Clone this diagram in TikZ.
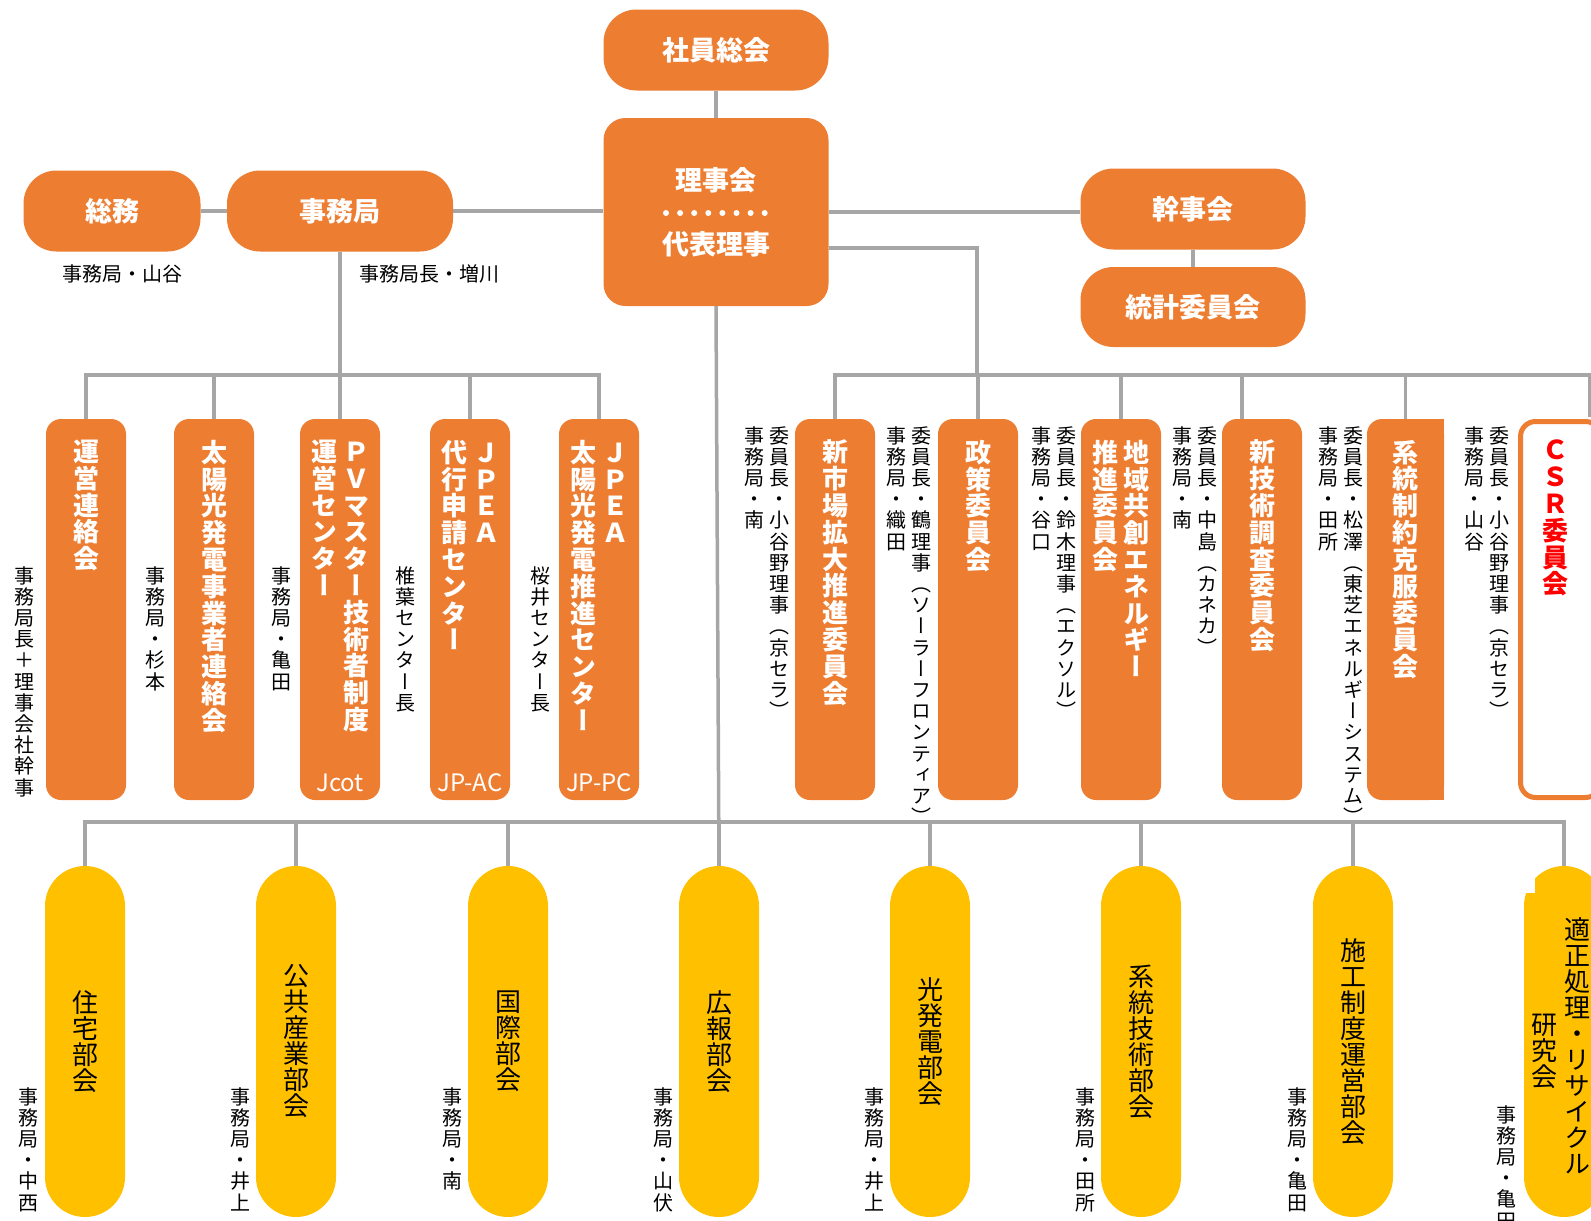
\documentclass[tikz,border=0pt]{standalone}
\usepackage{fontspec}
\usetikzlibrary{positioning}
\newfontfamily\jp{Noto Sans CJK JP}
\newfontfamily\jpv[RawFeature=+vert]{Noto Sans CJK JP}
\definecolor{jorange}{HTML}{ED7D31}
\definecolor{jyellow}{HTML}{FFC000}
\definecolor{jgray}{HTML}{A6A6A6}
\definecolor{jred}{HTML}{FF0000}
% one character per line, columns top aligned
\newcommand\vcol[1]{\vtop{\lineskiplimit=-100pt\expandafter\vcolA#1\relax}}
\def\vcolA#1{\ifx\relax#1\else\hbox to 1em{\hss#1\hss}\expandafter\vcolA\fi}
\begin{document}
\begin{tikzpicture}[x=1pt, y=-1pt,
  toptxt/.style={text=white, inner sep=0pt, font=\jp\bfseries\fontsize{27pt}{27pt}\selectfont},
  topbox/.style={toptxt, fill=jorange, rounded corners=33pt, minimum width=225pt, minimum height=81pt},
  colbox/.style={fill=jorange, rounded corners=15pt, minimum width=80pt, minimum height=381pt, inner sep=0pt},
  pill/.style={fill=jyellow, rounded corners=40pt, minimum width=80pt, minimum height=351pt, inner sep=0pt},
  wtxt/.style={text=white, inner sep=0pt, font=\jpv\bfseries\fontsize{26pt}{26.8pt}\selectfont},
  btxt/.style={text=black, inner sep=0pt, font=\jpv\fontsize{26pt}{26pt}\selectfont},
  lbl/.style={text=black, inner sep=0pt, font=\jpv\fontsize{20pt}{21.2pt}\selectfont},
  hlbl/.style={text=black, inner sep=0pt, font=\jp\fontsize{20pt}{20pt}\selectfont},
  abbr/.style={text=white, inner sep=0pt, font=\jp\fontsize{24pt}{24pt}\selectfont},
  conn/.style={draw=jgray, line width=3.5pt},
]
\path[clip, use as bounding box] (0,0) rectangle (1591,1221);

% top
\node[topbox] (soukai) at (716,50) {社員総会};
\node[topbox, rounded corners=22pt, minimum height=188pt] (riji) at (716,212) {};
\node[toptxt] (rijiA) at (716,180) {理事会};
\foreach \i in {0,...,7} \fill[white] (666+\i*14.1,213) circle (3pt);
\node[toptxt] (rijiB) at (716,244) {代表理事};
\node[topbox, minimum width=177pt] (soumu) at (112,211) {総務};
\node[topbox, minimum width=226pt] (jimu) at (340,211) {事務局};
\node[topbox] (kanji) at (1193,209) {幹事会};
\node[topbox, minimum height=80pt] (toukei) at (1193,307) {統計委員会};
\node[hlbl] (soumuL) at (122,274) {事務局・山谷};
\node[hlbl] (jimuL) at (429,274) {事務局長・増川};

\coordinate (lbus) at (0,375);
\coordinate (rbus) at (977,375);
\coordinate (rbusE) at (1600,375);
\coordinate (bbus) at (0,822);

% jimukyoku side
\node[colbox] (unei) at (86,609.5) {};
\node[colbox] (taiyou) at (214,609.5) {};
\node[colbox] (pvm) at (340,609.5) {};
\node[colbox] (jpac) at (470,609.5) {};
\node[colbox] (jppc) at (599,609.5) {};
\node[wtxt, below=21pt of unei.north] (uneiT) {\vcol{運営連絡会}};
\node[wtxt, below=21pt of taiyou.north] (taiyouT) {\vcol{太陽光発電事業者連絡会}};
\node[wtxt, below=21pt of pvm.north] (pvmT) {\vcol{運営センター}\kern6pt\vcol{ＰＶマスター技術者制度}};
\node[wtxt, below=21pt of jpac.north] (jpacT) {\vcol{代行申請センター}\kern6pt\vcol{ＪＰＥＡ}};
\node[wtxt, below=21pt of jppc.north] (jppcT) {\vcol{太陽光発電推進センター}\kern6pt\vcol{ＪＰＥＡ}};
\node[abbr, above=8pt of pvm.south] (pvmA) {Jcot};
\node[abbr, above=8pt of jpac.south] (jpacA) {JP-AC};
\node[abbr, above=8pt of jppc.south] (jppcA) {JP-PC};
\node[lbl, anchor=north] (uneiL) at (24,566) {\vcol{事務局長＋理事会社幹事}};
\node[lbl, anchor=north] (taiyouL) at (155,566) {\vcol{事務局・杉本}};
\node[lbl, anchor=north] (pvmL) at (281,566) {\vcol{事務局・亀田}};
\node[lbl, anchor=north] (jpacL) at (405,566) {\vcol{椎葉センター長}};
\node[lbl, anchor=north] (jppcL) at (540,566) {\vcol{桜井センター長}};

% committees
\node[colbox] (shinsi) at (835,609.5) {};
\node[colbox] (seisaku) at (978,609.5) {};
\node[colbox] (chiiki) at (1121,609.5) {};
\node[colbox] (shingi) at (1262,609.5) {};
\node[colbox, minimum width=77pt] (keitou) at (1405.5,609.5) {};
\fill[jorange] (1420,419) rectangle (1444,800);
\node[colbox, fill=white, draw=jorange, line width=5pt, minimum height=376pt] (csr) at (1560.5,609.5) {};
\node[wtxt, below=21pt of shinsi.north] (shinsiT) {\vcol{新市場拡大推進委員会}};
\node[wtxt, below=21pt of seisaku.north] (seisakuT) {\vcol{政策委員会}};
\node[wtxt, below=21pt of chiiki.north] (chiikiT) {\vcol{推進委員会}\kern5pt\vcol{地域共創エネルギー}};
\node[wtxt, below=21pt of shingi.north] (shingiT) {\vcol{新技術調査委員会}};
\node[wtxt, below=21pt of keitou.north] (keitouT) {\vcol{系統制約克服委員会}};
\node[wtxt, text=jred, anchor=north] (csrT) at (1555,440) {\vcol{ＣＳＲ委員会}};
\node[lbl, anchor=north] (shinsiL) at (767,426) {\vcol{事務局・南}\kern5pt\vcol{委員長・小谷野理事（京セラ）}};
\node[lbl, anchor=north] (seisakuL) at (909,426) {\vcol{事務局・織田}\kern5pt\vcol{委員長・鶴理事（ソーラーフロンティア）}};
\node[lbl, anchor=north] (chiikiL) at (1054,426) {\vcol{事務局・谷口}\kern5pt\vcol{委員長・鈴木理事（エクソル）}};
\node[lbl, anchor=north] (shingiL) at (1195,426) {\vcol{事務局・南}\kern5pt\vcol{委員長・中島（カネカ）}};
\node[lbl, anchor=north] (keitouL) at (1341,426) {\vcol{事務局・田所}\kern5pt\vcol{委員長・松澤（東芝エネルギーシステム）}};
\node[lbl, anchor=north] (csrL) at (1487,426) {\vcol{事務局・山谷}\kern5pt\vcol{委員長・小谷野理事（京セラ）}};

% bukai
\foreach \nm/\px/\tx/\lb in {jutaku/85/住宅部会/事務局・中西, koukyou/296/公共産業部会/事務局・井上,
    kokusai/508/国際部会/事務局・南, kouhou/719/広報部会/事務局・山伏, kouhatsu/930/光発電部会/事務局・井上,
    keitoug/1141/系統技術部会/事務局・田所, sekou/1353/施工制度運営部会/事務局・亀田}{
  \node[pill] (\nm) at (\px,1041.5) {};
  \node[btxt] (\nm-t) at (\nm) {\vcol{\tx}};
  \node[lbl, anchor=north] (\nm-l) at (\px-56,1087) {\vcol{\lb}};
}
\node[pill] (tekisei) at (1564,1041.5) {};
\fill[white] (1520,862) rectangle (1535,893);
\node[btxt] (tekiseiA) at (1577,1046) {\vcol{適正処理・リサイクル}};
\node[btxt] (tekiseiB) at (1544,1051) {\vcol{研究会}};
\node[lbl, anchor=north] (tekiseiL) at (1506,1105) {\vcol{事務局・亀田}};

% connectors
\draw[conn] (soukai) -- (riji);
\draw[conn] (soumu.east) -- (jimu.west);
\draw[conn] (jimu.east) -- (jimu.east -| riji.west);
\draw[conn] (riji.east) -- (riji.east -| kanji.west);
\draw[conn] (kanji) -- (toukei);
\draw[conn] ([yshift=-36pt]riji.east) -| (rbus);
\draw[conn] (jimu.south) -- (jimu.south |- lbus);
\draw[conn] (unei.north) |- (jppc.north |- lbus) -- (jppc.north);
\foreach \nm in {taiyou,pvm,jpac} \draw[conn] (\nm.north |- lbus) -- (\nm.north);
\draw[conn] (shinsi.north) |- (rbusE);
\foreach \nm in {seisaku,chiiki,keitou} \draw[conn] (\nm.north |- rbus) -- (\nm.north);
\draw[conn] ([xshift=-20pt]shingi.north |- rbus) -- ([xshift=-20pt]shingi.north);
\draw[conn] ([xshift=29.5pt]csr.north |- rbus) -- ([xshift=29.5pt,yshift=2pt]csr.north);
\draw[conn] (riji.south) -- (kouhou.north);
\draw[conn] (jutaku.north) |- (tekisei.north |- bbus) -- (tekisei.north);
\foreach \nm in {koukyou,kokusai,kouhou,kouhatsu,keitoug,sekou} \draw[conn] (\nm.north |- bbus) -- (\nm.north);
\end{tikzpicture}
\end{document}
